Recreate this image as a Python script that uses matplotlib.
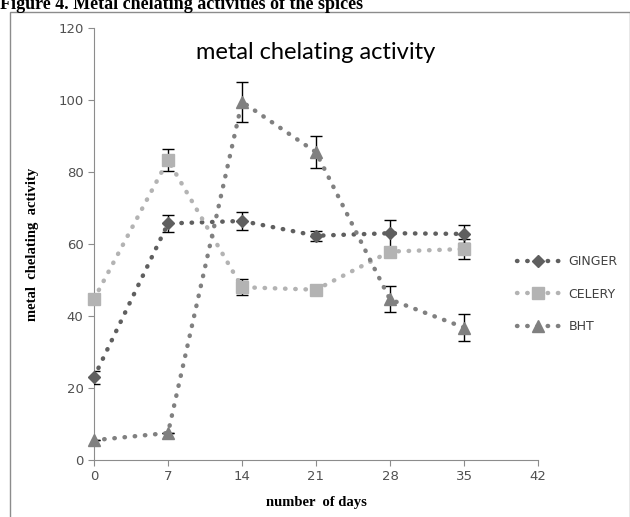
import numpy as np
import matplotlib.pyplot as plt
from matplotlib.patches import Rectangle

# data
days = [0, 7, 14, 21, 28, 35]
ginger = [23, 65.7, 66.4, 62.3, 63, 62.8]
ginger_err = [1.8, 2.4, 2.5, 1.4, 3.7, 2.6]
celery = [44.7, 83.3, 48, 47.3, 57.9, 58.6]
celery_err = [0, 3, 2.3, 0, 0, 2.8]
bht = [5.5, 7.5, 99.5, 85.5, 44.6, 36.8]
bht_err = [0, 0, 5.5, 4.5, 3.6, 3.8]

series_names = ["GINGER", "CELERY", "BHT"]
colors = ["#5f5f5f", "#b3b3b3", "#808080"]
markers = ["D", "s", "^"]
msizes = [6, 8, 8]

fig = plt.figure(figsize=(6.3, 5.17), dpi=100)

# caption above the chart box (cut off at top)
fig.text(0.0, 1 - 9 / 517, "Figure 4. Metal chelating activities of the spices",
         family="Liberation Serif", weight="bold", fontsize=13, va="baseline", ha="left")

# chart box border
fig.patches.append(Rectangle((10 / 630, -0.01), 620 / 630, 1 - 12 / 517 + 0.01,
                             transform=fig.transFigure, fill=False,
                             edgecolor="#8c8c8c", linewidth=1))

ax = fig.add_axes([94 / 630, 1 - 460 / 517, 444 / 630, 432 / 517])

all_vals = [ginger, celery, bht]
all_errs = [ginger_err, celery_err, bht_err]
for name, vals, errs, c, m, ms in zip(series_names, all_vals, all_errs, colors, markers, msizes):
    ax.errorbar(days, vals, yerr=errs, fmt="none", ecolor="black", elinewidth=1,
                capsize=4, capthick=1, zorder=3)
    ax.plot(days, vals, linestyle=(0, (0.1, 2.2)), dash_capstyle="round", linewidth=3.2,
            color=c, marker=m, markersize=ms, markeredgecolor=c, label=name, zorder=4,
            clip_on=False)

ax.set_xlim(0, 42)
ax.set_ylim(0, 120)
ax.set_xticks(range(0, 43, 7))
ax.set_yticks(range(0, 121, 20))
for s in ["top", "right"]:
    ax.spines[s].set_visible(False)
for s in ["left", "bottom"]:
    ax.spines[s].set_color("#8c8c8c")
ax.tick_params(colors="#8c8c8c", labelcolor="#505050", labelsize=9.5, length=4)
ax.set_xlabel("number  of days", family="Liberation Serif", weight="bold", fontsize=10.5, labelpad=9)
ax.set_ylabel("metal  chelating  activity", family="Liberation Serif", weight="bold", fontsize=10.5, labelpad=14)
ax.set_title("metal chelating activity", family="Lato", fontsize=17, pad=-22, y=1.0)

ax.legend(loc="center left", bbox_to_anchor=(517 / 630, 1 - 294 / 517), bbox_transform=fig.transFigure,
          frameon=False, labelspacing=1.55, handlelength=3.4, handletextpad=0.7,
          borderpad=0, borderaxespad=0, fontsize=9, labelcolor="#404040")

fig.savefig("out.png", dpi=100)
